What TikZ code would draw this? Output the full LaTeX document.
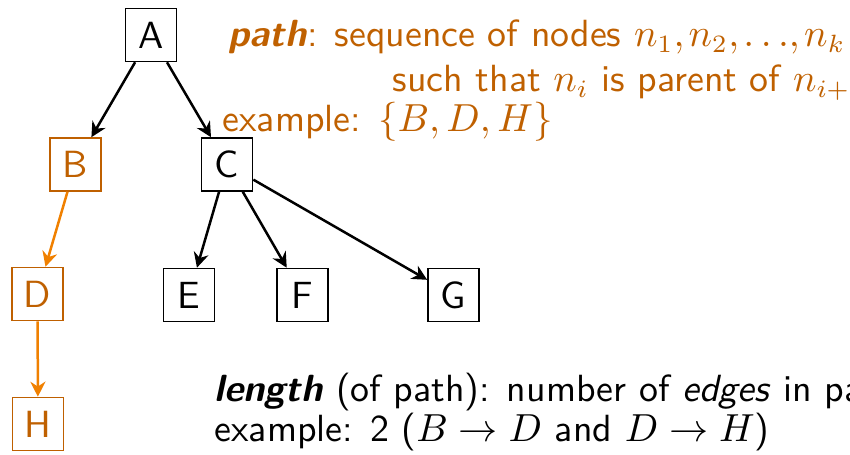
\documentclass[tikz,border=0pt]{standalone}
\usetikzlibrary{arrows.meta}
\definecolor{pathtext}{RGB}{191,96,0}
\definecolor{patharrow}{RGB}{240,128,0}
\tikzset{
  treebox/.style={draw, line width=0.47pt, minimum width=14.3pt, minimum height=14.8pt, inner sep=0pt},
  pathbox/.style={treebox, draw=pathtext, text=pathtext},
  edge/.style={-{Stealth[length=4.2pt,width=4.2pt]}, line width=0.7pt},
  pathedge/.style={edge, draw=patharrow, color=patharrow},
  txt/.style={anchor=base west, inner sep=0pt}
}
\begin{document}
\begin{tikzpicture}[x=0.28pt,y=-0.28pt,font=\sffamily\fontsize{10.6}{12.8}\selectfont]
\useasboundingbox (0,0) rectangle (850,455);
\clip (0,0) rectangle (850,455);
\node[treebox] (A) at (151,35) {A};
\node[pathbox] (B) at (75.5,164.5) {B};
\node[treebox] (C) at (227,164.5) {C};
\node[pathbox] (D) at (37.5,294) {D};
\node[treebox] (E) at (189,295) {E};
\node[treebox] (F) at (302.5,295) {F};
\node[treebox] (G) at (453.5,295) {G};
\node[pathbox] (H) at (38,424) {H};
\draw[edge] (A) -- (B);
\draw[edge] (A) -- (C);
\draw[edge] (C) -- (E);
\draw[edge] (C) -- (F);
\draw[edge] (C) -- (G);
\draw[pathedge] (B) -- (D);
\draw[pathedge] (D) -- (H);
\node[txt, text=pathtext] (p1) at (228,47) {\textbf{\textit{path}}: sequence of nodes $n_1{,}\mskip2mu n_2{,}\mskip2mu{\ldots}{,}\mskip2mu n_k$};
\node[txt, text=pathtext] (p2) at (392,92) {such that $n_i$ is parent of $n_{i+1}$};
\node[txt, text=pathtext] (p3) at (222,132) {example: $\{B, D, H\}$};
\node[txt] (l1) at (214,402) {\textbf{\textit{length}} (of path): number of \textit{edges} in path};
\node[txt] (l2) at (214,442) {example: 2 ($B \to D$ and $D \to H$)};
\end{tikzpicture}
\end{document}
